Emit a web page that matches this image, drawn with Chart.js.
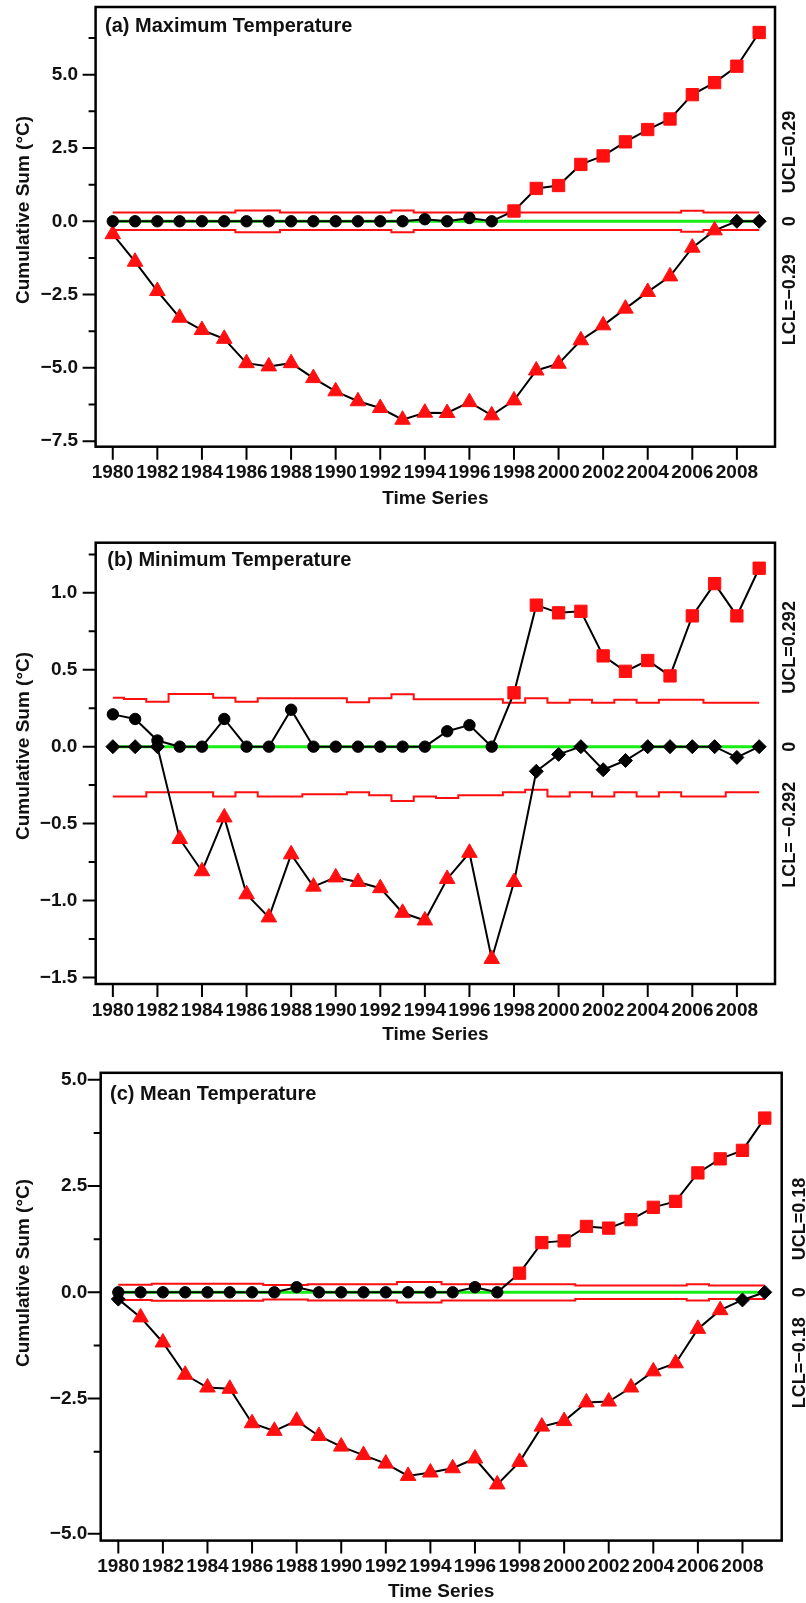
<!DOCTYPE html>
<html>
<head>
<meta charset="utf-8">
<title>CUSUM charts</title>
<script src="https://cdn.jsdelivr.net/npm/chart.js@4.4.1/dist/chart.umd.min.js"></script>
<style>
  html, body { margin: 0; padding: 0; background: #fff; }
  body { width: 806px; height: 1603px; position: relative; overflow: hidden; }
  canvas { position: absolute; left: 0; }
</style>
</head>
<body>
<canvas id="maxChart" width="806" height="520" style="top:0px"></canvas>
<canvas id="minChart" width="806" height="530" style="top:520px"></canvas>
<canvas id="meanChart" width="806" height="553" style="top:1050px"></canvas>
<script>
const years = [1980, 1981, 1982, 1983, 1984, 1985, 1986, 1987, 1988, 1989,
               1990, 1991, 1992, 1993, 1994, 1995, 1996, 1997, 1998, 1999,
               2000, 2001, 2002, 2003, 2004, 2005, 2006, 2007, 2008, 2009];
const xTickYears = [1980, 1982, 1984, 1986, 1988, 1990, 1992, 1994, 1996, 1998, 2000, 2002, 2004, 2006, 2008];

// (a) Maximum temperature
const maxUpper = [0, 0, 0, 0, 0, 0, 0, 0, 0, 0, 0, 0, 0, 0, 0.07, 0, 0.11, 0,
                  0.35, 1.12, 1.22, 1.94, 2.23, 2.71, 3.13, 3.49, 4.32, 4.73, 5.29, 6.44];
const maxLower = [-0.44, -1.38, -2.38, -3.29, -3.71, -4.01, -4.84, -4.95, -4.84, -5.35,
                  -5.8, -6.14, -6.37, -6.77, -6.53, -6.54, -6.17, -6.62, -6.11, -5.09,
                  -4.86, -4.06, -3.55, -2.98, -2.41, -1.88, -0.9, -0.31, 0, 0];
const maxUcl = [0.3, 0.3, 0.3, 0.3, 0.3, 0.3, 0.37, 0.37, 0.3, 0.3, 0.3, 0.3, 0.3, 0.37, 0.3,
                0.3, 0.3, 0.3, 0.3, 0.3, 0.3, 0.3, 0.3, 0.3, 0.3, 0.3, 0.36, 0.3, 0.3, 0.3];
const maxLcl = [-0.3, -0.3, -0.3, -0.3, -0.3, -0.3, -0.37, -0.37, -0.3, -0.3, -0.3, -0.3, -0.3, -0.37, -0.3,
                -0.3, -0.3, -0.3, -0.3, -0.3, -0.3, -0.3, -0.3, -0.3, -0.3, -0.3, -0.36, -0.3, -0.3, -0.3];
const maxLimit = 0.29;
const maxYTicks = [6.25, 5, 3.75, 2.5, 1.25, 0, -1.25, -2.5, -3.75, -5, -6.25, -7.5];
const maxYLabels = ['', '5.0', '', '2.5', '', '0.0', '', '\u22122.5', '', '\u22125.0', '', '\u22127.5'];

// (b) Minimum temperature
const minUpper = [0.21, 0.18, 0.04, 0, 0, 0.18, 0, 0, 0.24, 0, 0, 0, 0, 0, 0, 0.10, 0.14, 0,
                  0.35, 0.92, 0.87, 0.88, 0.59, 0.49, 0.56, 0.46, 0.85, 1.06, 0.85, 1.16];
const minLower = [0, 0, 0, -0.60, -0.81, -0.46, -0.96, -1.11, -0.70, -0.91,
                  -0.85, -0.88, -0.92, -1.08, -1.13, -0.86, -0.69, -1.38, -0.88, -0.16,
                  -0.05, 0, -0.15, -0.09, 0, 0, 0, 0, -0.07, 0];
const minUcl = [0.318, 0.31, 0.292, 0.342, 0.342, 0.318, 0.292, 0.314, 0.314, 0.314,
                0.314, 0.288, 0.314, 0.34, 0.308, 0.308, 0.308, 0.308, 0.286, 0.314,
                0.286, 0.305, 0.286, 0.305, 0.286, 0.305, 0.305, 0.286, 0.286, 0.286];
const minLcl = [-0.324, -0.324, -0.296, -0.296, -0.296, -0.324, -0.296, -0.324, -0.324, -0.31,
                -0.31, -0.296, -0.316, -0.353, -0.324, -0.333, -0.316, -0.316, -0.296, -0.28,
                -0.324, -0.296, -0.324, -0.296, -0.324, -0.296, -0.324, -0.324, -0.296, -0.296];
const minLimit = 0.292;
const minYTicks = [1.25, 1, 0.75, 0.5, 0.25, 0, -0.25, -0.5, -0.75, -1, -1.25, -1.5];
const minYLabels = ['', '1.0', '', '0.5', '', '0.0', '', '\u22120.5', '', '\u22121.0', '', '\u22121.5'];

// (c) Mean temperature
const meanUpper = [0, 0, 0, 0, 0, 0, 0, 0, 0.12, 0, 0, 0, 0, 0, 0, 0, 0.12, 0,
                   0.45, 1.17, 1.21, 1.55, 1.51, 1.71, 2.0, 2.14, 2.81, 3.14, 3.34, 4.1];
const meanLower = [-0.16, -0.59, -1.18, -1.94, -2.24, -2.27, -3.08, -3.26, -3.02, -3.38,
                   -3.63, -3.83, -4.03, -4.32, -4.24, -4.14, -3.91, -4.52, -3.99, -3.16,
                   -3.03, -2.59, -2.57, -2.24, -1.86, -1.67, -0.86, -0.42, -0.18, 0];
const meanUcl = [0.18, 0.18, 0.2, 0.2, 0.2, 0.2, 0.2, 0.17, 0.17, 0.19, 0.19, 0.19, 0.19, 0.24, 0.24,
                 0.19, 0.19, 0.19, 0.19, 0.19, 0.19, 0.16, 0.16, 0.16, 0.16, 0.16, 0.19, 0.16, 0.16, 0.16];
const meanLcl = [-0.18, -0.18, -0.2, -0.2, -0.2, -0.2, -0.2, -0.17, -0.17, -0.19, -0.19, -0.19, -0.19, -0.24, -0.24,
                 -0.19, -0.19, -0.19, -0.19, -0.19, -0.19, -0.16, -0.16, -0.16, -0.16, -0.16, -0.19, -0.16, -0.16, -0.16];
const meanLimit = 0.18;
const meanYTicks = [5, 3.75, 2.5, 1.25, 0, -1.25, -2.5, -3.75, -5.68];
const meanYLabels = ['5.0', '', '2.5', '', '0.0', '', '\u22122.5', '', '\u22125.0'];

const RED = '#ff0f0f';
const GREEN = '#16ee16';
const INK = '#111';
const FONT = "'Liberation Sans', Arial, sans-serif";
Chart.defaults.font.family = FONT;
Chart.defaults.color = INK;

// frame, tick marks, panel title, y title and the UCL / 0 / LCL notes
function decor(t, yLabels) {
  return {
    id: 'panelDecor',
    afterDraw(chart) {
      const { ctx, chartArea: a, scales: { x, y } } = chart;
      ctx.save();
      ctx.strokeStyle = '#000';
      ctx.lineWidth = 2;
      ctx.beginPath();
      y.ticks.forEach((tk, i) => {
        const py = y.getPixelForValue(tk.value);
        const len = yLabels[i] ? 13 : 7;
        ctx.moveTo(a.left - len, py);
        ctx.lineTo(a.left, py);
      });
      x.ticks.forEach(tk => {
        const px = x.getPixelForValue(tk.value);
        ctx.moveTo(px, a.bottom);
        ctx.lineTo(px, a.bottom + 13);
      });
      ctx.stroke();
      ctx.lineWidth = 2.5;
      ctx.strokeRect(a.left, a.top, a.right - a.left, a.bottom - a.top);

      ctx.fillStyle = INK;
      ctx.textBaseline = 'middle';
      ctx.font = 'bold 20px ' + FONT;
      ctx.textAlign = 'left';
      ctx.fillText(t.title, a.left + t.titleDx, a.top + t.titleDy);

      ctx.font = 'bold 19px ' + FONT;
      ctx.save();
      ctx.translate(t.yTitleX, t.yTitleY);
      ctx.rotate(-Math.PI / 2);
      ctx.textAlign = 'center';
      ctx.fillText('Cumulative Sum (\u00b0C)', 0, 0);
      ctx.restore();

      const zero = y.getPixelForValue(0);
      ctx.font = 'bold 18px ' + FONT;
      ctx.save();
      ctx.translate(t.noteX, zero);
      ctx.rotate(-Math.PI / 2);
      ctx.textAlign = 'center';
      ctx.fillText('0', 0, 0);
      ctx.textAlign = 'left';
      ctx.fillText(t.ucl, t.uclGap, 0);
      ctx.textAlign = 'right';
      ctx.fillText(t.lcl, -t.lclGap, 0);
      ctx.restore();
      ctx.restore();
    }
  };
}

function cusumPanel(id, s, box, t) {
  const pts = vals => years.map((yr, i) => ({ x: yr, y: vals[i] }));
  const out = c => c.raw && (c.raw.y > s.limit || c.raw.y < -s.limit);
  const markColor = c => (out(c) ? RED : '#000');
  const limitLine = vals => ({
    data: pts(vals), borderColor: RED, borderWidth: 2, pointRadius: 0, stepped: 'middle'
  });

  new Chart(document.getElementById(id), {
    type: 'line',
    data: {
      datasets: [
        {
          data: pts(s.upper), borderColor: '#000', borderWidth: 2,
          pointStyle: c => (out(c) ? 'rect' : 'circle'),
          pointRadius: c => (out(c) ? 8.7 : 5.7),
          pointBackgroundColor: markColor, pointBorderColor: markColor, pointBorderWidth: 1
        },
        {
          data: pts(s.lower), borderColor: '#000', borderWidth: 2,
          pointStyle: c => (out(c) ? 'triangle' : 'rectRot'),
          pointRadius: c => (out(c) ? 9 : 7),
          pointBackgroundColor: markColor, pointBorderColor: markColor, pointBorderWidth: 1
        },
        limitLine(s.ucl),
        limitLine(s.lcl),
        {
          data: [{ x: years[0], y: 0 }, { x: years[years.length - 1], y: 0 }],
          borderColor: GREEN, borderWidth: 3, pointRadius: 0
        }
      ]
    },
    options: {
      responsive: false,
      animation: false,
      events: [],
      layout: { autoPadding: false, padding: { top: box.top, right: box.right, left: 0, bottom: 0 } },
      plugins: { legend: { display: false }, tooltip: { enabled: false } },
      scales: {
        x: {
          type: 'linear', min: box.xMin, max: box.xMax,
          grid: { display: false, drawTicks: false }, border: { display: false },
          afterBuildTicks: sc => { sc.ticks = xTickYears.map(v => ({ value: v })); },
          afterFit: sc => { sc.height = box.xHeight; sc.paddingLeft = 0; sc.paddingRight = 0; },
          ticks: {
            autoSkip: false, maxRotation: 0, padding: 15, color: INK,
            font: { size: 19, weight: 'bold' }, callback: v => String(v)
          },
          title: {
            display: true, text: 'Time Series', color: INK,
            font: { size: 19, weight: 'bold' }, padding: { top: 0, bottom: box.titlePad }
          }
        },
        y: {
          type: 'linear', min: box.yMin, max: box.yMax,
          grid: { display: false, drawTicks: false }, border: { display: false },
          afterBuildTicks: sc => { sc.ticks = s.yTicks.map(v => ({ value: v })); },
          afterFit: sc => { sc.width = box.left; sc.paddingTop = 0; sc.paddingBottom = 0; },
          ticks: {
            autoSkip: false, padding: box.yPad, color: INK,
            font: { size: 19, weight: 'bold' }, callback: (v, i) => s.yLabels[i]
          }
        }
      }
    },
    plugins: [decor(t, s.yLabels)]
  });
}

cusumPanel('maxChart',
  { upper: maxUpper, lower: maxLower, ucl: maxUcl, lcl: maxLcl, limit: maxLimit, yTicks: maxYTicks, yLabels: maxYLabels },
  { top: 7, right: 31, left: 95.6, xHeight: 73.3, titlePad: 9.6, yPad: 17.5,
    xMin: 1979.23, xMax: 2009.71, yMin: -7.69, yMax: 7.31 },
  { title: '(a) Maximum Temperature', titleDx: 9.4, titleDy: 19, yTitleX: 23.3, yTitleY: 210,
    noteX: 790, uclGap: 28, lclGap: 33, ucl: 'UCL=0.29', lcl: 'LCL=\u22120.29' });

cusumPanel('minChart',
  { upper: minUpper, lower: minLower, ucl: minUcl, lcl: minLcl, limit: minLimit, yTicks: minYTicks, yLabels: minYLabels },
  { top: 22.7, right: 31, left: 95.7, xHeight: 66, titlePad: 3.6, yPad: 18.4,
    xMin: 1979.23, xMax: 2009.71, yMin: -1.543, yMax: 1.326 },
  { title: '(b) Minimum Temperature', titleDx: 11.6, titleDy: 17.3, yTitleX: 23.3, yTitleY: 226,
    noteX: 790, uclGap: 53, lclGap: 35, ucl: 'UCL=0.292', lcl: 'LCL= \u22120.292' });

cusumPanel('meanChart',
  { upper: meanUpper, lower: meanLower, ucl: meanUcl, lcl: meanLcl, limit: meanLimit, yTicks: meanYTicks, yLabels: meanYLabels },
  { top: 22.8, right: 24.3, left: 100.7, xHeight: 62.4, titlePad: 0, yPad: 13.4,
    xMin: 1979.21, xMax: 2009.76, yMin: -5.842, yMax: 5.165 },
  { title: '(c) Mean Temperature', titleDx: 9.3, titleDy: 21.8, yTitleX: 24.2, yTitleY: 223,
    noteX: 800, uclGap: 32, lclGap: 25, ucl: 'UCL=0.18', lcl: 'LCL=\u22120.18' });
</script>
</body>
</html>
